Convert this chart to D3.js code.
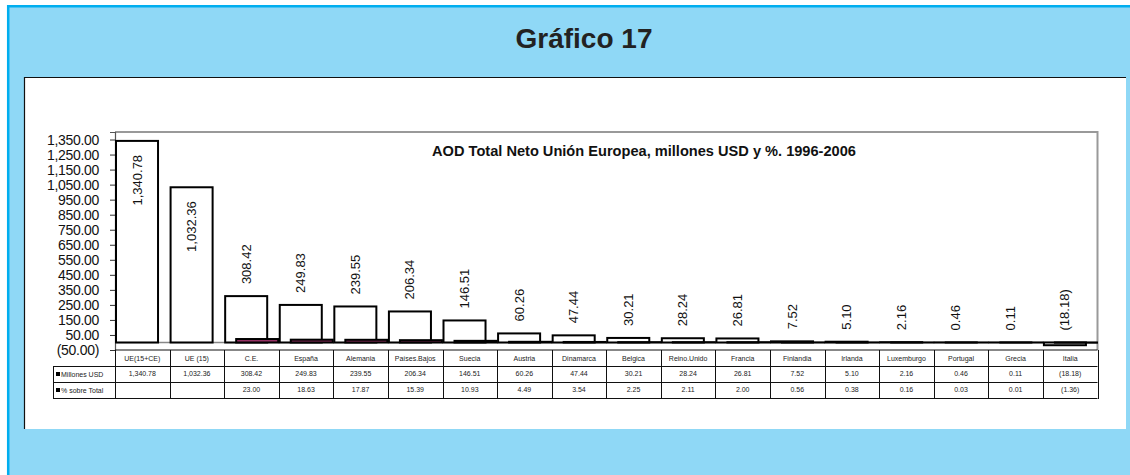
<!DOCTYPE html>
<html>
<head>
<meta charset="utf-8">
<script src="https://cdn.jsdelivr.net/npm/d3@7"></script>
<style>
  html, body { margin: 0; padding: 0; background: #ffffff; }
  svg { display: block; font-family: "Liberation Sans", Arial, sans-serif; }
</style>
</head>
<body>
<svg id="chart" width="1130" height="475"></svg>
<script>
// ---- Data ----
const categories = ["UE(15+CE)", "UE (15)", "C.E.", "España", "Alemania", "Países.Bajos", "Suecia", "Austria", "Dinamarca", "Belgica", "Reino.Unido", "Francia", "Finlandia", "Irlanda", "Luxemburgo", "Portugal", "Grecia", "Italia"];
const millonesUSD = [1340.78, 1032.36, 308.42, 249.83, 239.55, 206.34, 146.51, 60.26, 47.44, 30.21, 28.24, 26.81, 7.52, 5.10, 2.16, 0.46, 0.11, -18.18];
const pctSobreTotal = [null, null, 23.00, 18.63, 17.87, 15.39, 10.93, 4.49, 3.54, 2.25, 2.11, 2.00, 0.56, 0.38, 0.16, 0.03, 0.01, -1.36];
const seriesNames = ["Millones USD", "% sobre Total"];
const yTickValues = [-50, 50, 150, 250, 350, 450, 550, 650, 750, 850, 950, 1050, 1150, 1250, 1350];
const mainTitle = "Gráfico 17";
const chartTitle = "AOD Total Neto Unión Europea, millones USD y %. 1996-2006";

// ---- Setup ----
const svg = d3.select("#chart");
const fmt = v => {
  const s = d3.format(",.2f")(Math.abs(v));
  return v < 0 ? "(" + s + ")" : s;
};

// outer blue box
svg.append("rect").attr("x", 7).attr("y", 5).attr("width", 1123).attr("height", 470).attr("fill", "#8fd8f6");
svg.append("line").attr("x1", 8.2).attr("x2", 8.2).attr("y1", 5).attr("y2", 475).attr("stroke", "#00aeef").attr("stroke-width", 2.5);
svg.append("line").attr("x1", 7).attr("x2", 1130).attr("y1", 6.2).attr("y2", 6.2).attr("stroke", "#00aeef").attr("stroke-width", 2.5);

svg.append("text").attr("x", 584).attr("y", 48).attr("text-anchor", "middle")
  .attr("font-size", 28).attr("font-weight", "bold").attr("fill", "#222").text(mainTitle);

// white panel
svg.append("rect").attr("x", 24).attr("y", 77).attr("width", 1102).attr("height", 352).attr("fill", "#fff");
svg.append("line").attr("x1", 24).attr("x2", 1126).attr("y1", 77.5).attr("y2", 77.5).attr("stroke", "#111").attr("stroke-width", 1.2);
svg.append("line").attr("x1", 24.5).attr("x2", 24.5).attr("y1", 77).attr("y2", 429).attr("stroke", "#111").attr("stroke-width", 1.2);

// scales
const plotL = 115, plotR = 1097.5, plotT = 132, plotB = 350;
const x = d3.scaleBand().domain(categories).range([plotL, plotR]).padding(0);
const y = d3.scaleLinear().domain([-50, 1400]).range([plotB, plotT]);
const bw = x.bandwidth();
const barW = bw * 0.77;
const off1 = 1, off2 = bw * 0.22;

// plot frame (top/right gray)
svg.append("path")
  .attr("d", `M${plotL},${plotT}H${plotR}V${plotB}`)
  .attr("fill", "none").attr("stroke", "#999").attr("stroke-width", 2);

// chart title
svg.append("text").attr("x", 644).attr("y", 156).attr("text-anchor", "middle")
  .attr("font-size", 14.6).attr("font-weight", "bold").attr("fill", "#111").text(chartTitle);

// y axis
const yAxis = d3.axisLeft(y).tickValues(yTickValues).tickSize(5).tickPadding(11).tickFormat(fmt);
const gy = svg.append("g").attr("transform", `translate(${plotL},0)`).call(yAxis);
gy.select(".domain").attr("stroke", "#555").attr("stroke-width", 1.2);
gy.selectAll(".tick line").attr("stroke", "#333");
gy.selectAll(".tick text").attr("font-size", 14).attr("fill", "#111")
  .attr("font-family", "'Liberation Sans', Arial, sans-serif").attr("letter-spacing", "-0.3");

// zero baseline
svg.append("line").attr("x1", plotL).attr("x2", plotR).attr("y1", y(0)).attr("y2", y(0))
  .attr("stroke", "#888").attr("stroke-width", 1.5);

// series 1 bars
const data1 = categories.map((c, i) => ({ c, v: millonesUSD[i] }));
const data2 = categories.map((c, i) => ({ c, v: pctSobreTotal[i] })).filter(d => d.v !== null);

svg.append("g").selectAll("rect").data(data1).join("rect")
  .attr("x", d => x(d.c) + off1)
  .attr("width", barW)
  .attr("y", d => Math.min(y(d.v), y(0)))
  .attr("height", d => Math.abs(y(d.v) - y(0)))
  .attr("fill", "#fff").attr("stroke", "#000").attr("stroke-width", 2);

svg.append("g").selectAll("rect").data(data2).join("rect")
  .attr("x", d => x(d.c) + off2)
  .attr("width", barW)
  .attr("y", d => Math.min(y(d.v), y(0)))
  .attr("height", d => Math.abs(y(d.v) - y(0)))
  .attr("fill", "#993366").attr("stroke", "#000").attr("stroke-width", 2);

// data labels (rotated)
const lblFont = 13;
const labels = svg.append("g").selectAll("text").data(data1).join("text")
  .attr("font-size", lblFont).attr("fill", "#111").attr("dy", "0.35em")
  .text(d => fmt(d.v));
labels.each(function (d) {
  const len = this.getComputedTextLength();
  const cx = x(d.c) + off1 + barW / 2;
  const bottom = Math.min(y(d.v), y(0)) - 12;
  let ay, anchor;
  if (bottom - len < plotT + 2) {
    ay = y(d.v) + 14; anchor = "end";
  } else {
    ay = bottom; anchor = "start";
  }
  d3.select(this).attr("text-anchor", anchor)
    .attr("transform", `translate(${cx},${ay}) rotate(-90)`);
});

// data table
const tbl = svg.append("g").attr("font-size", 7).attr("fill", "#222");
const rowY = [350, 366, 382, 398];
const tableL = 53.5;
tbl.append("line").attr("x1", plotL).attr("x2", plotR).attr("y1", rowY[0]).attr("y2", rowY[0]).attr("stroke", "#111").attr("stroke-width", 1.2);
[1, 2, 3].forEach(k => {
  tbl.append("line").attr("x1", tableL).attr("x2", plotR).attr("y1", rowY[k] + 0.5).attr("y2", rowY[k] + 0.5)
    .attr("stroke", "#111").attr("stroke-width", 1);
});
const vx = categories.map(c => x(c)).concat([plotR]);
tbl.selectAll("line.v").data(vx).join("line").attr("class", "v")
  .attr("x1", d => Math.round(d) + 0.5).attr("x2", d => Math.round(d) + 0.5)
  .attr("y1", rowY[0]).attr("y2", rowY[3] + 1).attr("stroke", "#111").attr("stroke-width", 1);
tbl.append("line").attr("x1", tableL).attr("x2", tableL).attr("y1", rowY[1]).attr("y2", rowY[3] + 1)
  .attr("stroke", "#111").attr("stroke-width", 1);

tbl.selectAll("text.cat").data(categories).join("text").attr("class", "cat")
  .attr("x", d => x(d) + bw / 2).attr("y", rowY[0] + 11).attr("text-anchor", "middle").text(d => d);
tbl.selectAll("text.v1").data(data1).join("text").attr("class", "v1")
  .attr("x", d => x(d.c) + bw / 2).attr("y", rowY[1] + 10).attr("text-anchor", "middle").text(d => fmt(d.v));
tbl.selectAll("text.v2").data(data2).join("text").attr("class", "v2")
  .attr("x", d => x(d.c) + bw / 2).attr("y", rowY[2] + 10).attr("text-anchor", "middle").text(d => fmt(d.v));

seriesNames.forEach((name, i) => {
  const ry = rowY[i + 1];
  tbl.append("rect").attr("x", 56).attr("y", ry + 6).attr("width", 4).attr("height", 4).attr("fill", "#000");
  tbl.append("text").attr("x", 61).attr("y", ry + 10.5).text(name);
});
</script>
</body>
</html>
